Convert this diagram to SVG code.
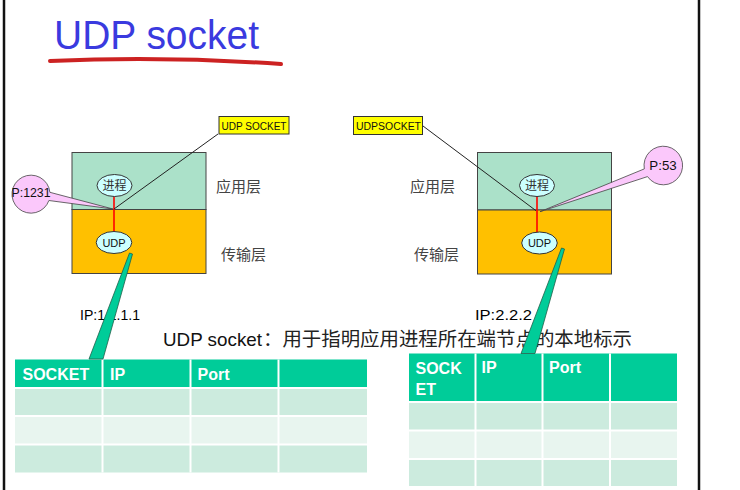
<svg xmlns="http://www.w3.org/2000/svg" width="740" height="490" viewBox="0 0 740 490">
<style>
.border{stroke:#111;stroke-width:2.5}
.app{fill:#ABE1C9;stroke:#444;stroke-width:1}
.trans{fill:#FFC000;stroke:#444;stroke-width:1}
.ell{fill:#CCFFFF;stroke:#333;stroke-width:1}
.etxt{font-family:"Liberation Serif","Noto Sans CJK SC",serif;font-size:12px;fill:#333;text-anchor:middle}
.utxt{font-family:"Liberation Sans",sans-serif;font-size:11px;fill:#111;text-anchor:middle}
.layer{font-family:"Noto Sans CJK SC",sans-serif;font-size:15px;fill:#444}
.sock{fill:#FFFF00;stroke:#333;stroke-width:1}
.socktxt{font-family:"Liberation Sans",sans-serif;font-size:10px;fill:#111}
.pink{fill:#FBC8FB;stroke:#444;stroke-width:0.8}
.ptxt{font-family:"Liberation Sans",sans-serif;font-size:13px;fill:#111}
.ip{font-family:"Liberation Sans",sans-serif;font-size:15px;fill:#000}
.hdr{fill:#00CC99}
.r1{fill:#CCEBDE}
.r2{fill:#E8F5EF}
.grid{stroke:#fff;stroke-width:2}
.htxt{font-family:"Liberation Sans",sans-serif;font-weight:bold;font-size:16px;fill:#fff}
.pointer{stroke:#222;stroke-width:1;fill:none}
.red{stroke:#FF0000;stroke-width:1.6}
.wedge{fill:#00CC99;stroke:#1f5f4a;stroke-width:0.8}
</style>

<g id="frame">
<line class="border" x1="4" y1="0" x2="4" y2="490"/>
<line class="border" x1="699" y1="0" x2="699" y2="490"/>
</g>

<g id="title">
<text x="54" y="49" font-family="Liberation Sans, sans-serif" font-size="40" fill="#3A3ADF" textLength="205" lengthAdjust="spacingAndGlyphs">UDP socket</text>
<path d="M50,61 Q165,56 281,64" stroke="#CC2222" stroke-width="4" fill="none" stroke-linecap="round"/>
</g>

<g id="host-a">
<rect class="app" x="72" y="152.5" width="134" height="57"/>
<rect class="trans" x="72" y="209.5" width="134" height="64"/>
<text class="layer" x="216" y="192">应用层</text>
<text class="layer" x="221" y="260">传输层</text>
</g>

<g id="host-b">
<rect class="app" x="477.5" y="152.5" width="134" height="57.5"/>
<rect class="trans" x="477.5" y="210" width="134" height="64"/>
<text class="layer" x="410" y="192">应用层</text>
<text class="layer" x="414" y="260">传输层</text>
</g>

<g id="connectors">
<line class="red" x1="114" y1="196.5" x2="114" y2="231"/>
<line class="red" x1="537" y1="196.5" x2="537" y2="232"/>
<line class="pointer" x1="114" y1="209" x2="218" y2="134"/>
<line class="pointer" x1="536" y1="210.7" x2="423" y2="126"/>
</g>

<g id="process-a">
<ellipse class="ell" cx="114.5" cy="185.5" rx="17.5" ry="11"/>
<text class="etxt" x="114.5" y="190">进程</text>
</g>
<g id="udp-a">
<ellipse class="ell" cx="114" cy="242.5" rx="17.8" ry="11"/>
<text class="utxt" x="114" y="246.5">UDP</text>
</g>
<g id="process-b">
<ellipse class="ell" cx="537" cy="185.5" rx="17.5" ry="11"/>
<text class="etxt" x="537" y="190">进程</text>
</g>
<g id="udp-b">
<ellipse class="ell" cx="539.5" cy="243" rx="17.8" ry="11"/>
<text class="utxt" x="539.5" y="247">UDP</text>
</g>

<g id="label-socket-a">
<rect class="sock" x="219" y="116.5" width="70" height="17.5"/>
<text class="socktxt" x="221.5" y="129.5" textLength="65" lengthAdjust="spacingAndGlyphs">UDP SOCKET</text>
</g>
<g id="label-socket-b">
<rect class="sock" x="353.5" y="116.5" width="69" height="18"/>
<text class="socktxt" x="356" y="129.5" textLength="65" lengthAdjust="spacingAndGlyphs">UDPSOCKET</text>
</g>

<g id="callout-port-a">
<path class="pink" d="M49.9,192.3 L113,209 L48.9,200.5 A19,19 0 1 1 49.9,192.3 Z"/>
<text class="ptxt" x="11.5" y="197" textLength="39" lengthAdjust="spacingAndGlyphs">P:1231</text>
</g>
<g id="callout-port-b">
<path class="pink" d="M644.3,168.9 L540,211.7 L647.5,176.6 A19.3,19.3 0 1 0 644.3,168.9 Z"/>
<text class="ptxt" x="649.3" y="169.5" textLength="27.4" lengthAdjust="spacingAndGlyphs">P:53</text>
</g>

<g id="ip-a">
<text class="ip" x="80" y="320" textLength="60" lengthAdjust="spacingAndGlyphs">IP:1.1.1.1</text>
</g>
<g id="ip-b">
<text class="ip" x="475" y="320" textLength="57" lengthAdjust="spacingAndGlyphs">IP:2.2.2</text>
</g>

<g id="subtitle">
<text x="163" y="346" font-family="Liberation Sans, sans-serif" font-size="19" fill="#111" textLength="99" lengthAdjust="spacingAndGlyphs">UDP socket</text>
<text x="263" y="346" font-family="Noto Sans CJK SC, sans-serif" font-size="19" fill="#222" textLength="369" lengthAdjust="spacingAndGlyphs">：用于指明应用进程所在端节点的本地标示</text>
</g>

<g id="table-a">
<rect class="hdr" x="15" y="359.5" width="352" height="28.5"/>
<rect class="r1" x="15" y="388" width="352" height="28"/>
<rect class="r2" x="15" y="416" width="352" height="28.5"/>
<rect class="r1" x="15" y="444.5" width="352" height="28"/>
<line class="grid" x1="15" y1="388" x2="367" y2="388"/>
<line class="grid" x1="15" y1="416" x2="367" y2="416"/>
<line class="grid" x1="15" y1="444.5" x2="367" y2="444.5"/>
<line class="grid" x1="102.5" y1="359.5" x2="102.5" y2="472.5"/>
<line class="grid" x1="190.5" y1="359.5" x2="190.5" y2="472.5"/>
<line class="grid" x1="278.5" y1="359.5" x2="278.5" y2="472.5"/>
<text class="htxt" x="22.5" y="380">SOCKET</text>
<text class="htxt" x="110" y="380">IP</text>
<text class="htxt" x="197.5" y="380">Port</text>
</g>

<g id="table-b">
<rect class="hdr" x="409" y="353.5" width="268" height="48"/>
<rect class="r1" x="409" y="402" width="268" height="28.5"/>
<rect class="r2" x="409" y="430.5" width="268" height="28.5"/>
<rect class="r1" x="409" y="459" width="268" height="27"/>
<line class="grid" x1="409" y1="402" x2="677" y2="402"/>
<line class="grid" x1="409" y1="430.5" x2="677" y2="430.5"/>
<line class="grid" x1="409" y1="459" x2="677" y2="459"/>
<line class="grid" x1="475.5" y1="353.5" x2="475.5" y2="486"/>
<line class="grid" x1="542.5" y1="353.5" x2="542.5" y2="486"/>
<line class="grid" x1="610" y1="353.5" x2="610" y2="486"/>
<text class="htxt" x="415.5" y="374">SOCK</text>
<text class="htxt" x="415.5" y="395">ET</text>
<text class="htxt" x="481.5" y="373">IP</text>
<text class="htxt" x="549" y="373">Port</text>
</g>

<g id="links">
<polygon class="wedge" points="129.5,253 132.5,254 103,359 89,359"/>
<polygon class="wedge" points="561.5,248 564.5,249 535,353.5 521,353.5"/>
</g>
</svg>
